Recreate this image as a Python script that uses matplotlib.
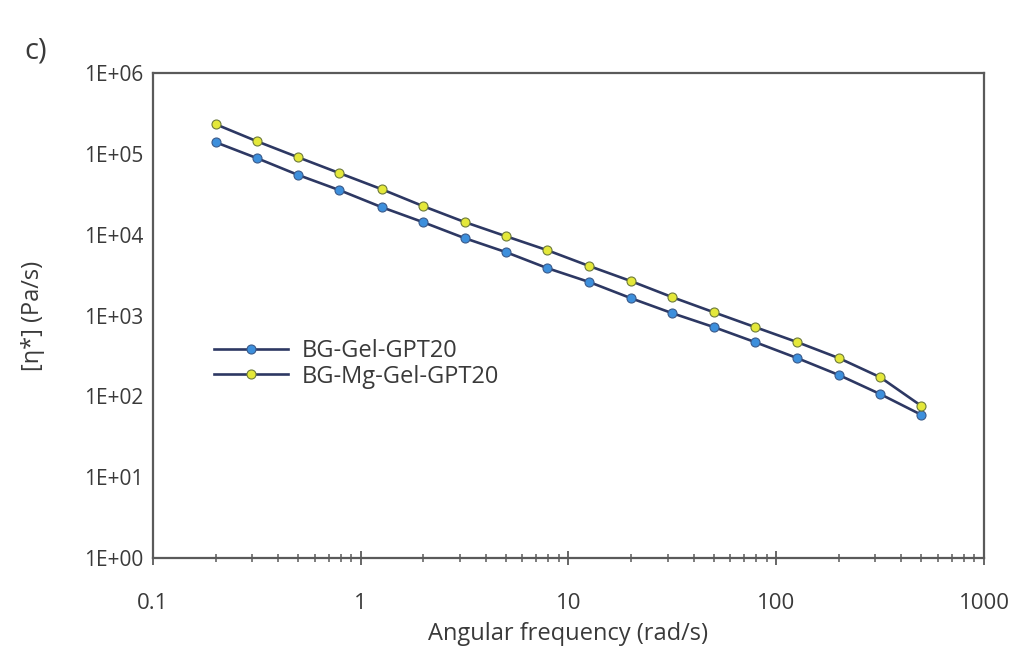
import numpy as np
import matplotlib
matplotlib.use("Agg")
import matplotlib.pyplot as plt

plt.rcParams["font.family"] = ["Open Sans", "DejaVu Sans"]

# angular frequency (rad/s), 5 points per decade
freq = [0.2, 0.316, 0.5, 0.79, 1.26, 2, 3.16, 5, 7.9, 12.6,
        20, 31.6, 50, 79, 126, 200, 316, 500]

# complex viscosity |eta*| (Pa/s)
bg_gel = [1.40e5, 8.9e4, 5.5e4, 3.57e4, 2.2e4, 1.43e4, 9.1e3, 6.1e3, 3.87e3,
          2.6e3, 1.64e3, 1.07e3, 721, 470, 298, 184, 107, 59]
bg_mg_gel = [2.34e5, 1.44e5, 9.1e4, 5.8e4, 3.67e4, 2.26e4, 1.44e4, 9.6e3, 6.45e3,
             4.1e3, 2.67e3, 1.69e3, 1.1e3, 721, 470, 298, 173, 76]

series_names = ["BG-Gel-GPT20", "BG-Mg-Gel-GPT20"]
yticks = [1, 10, 100, 1e3, 1e4, 1e5, 1e6]
ytick_labels = ["1E+00", "1E+01", "1E+02", "1E+03", "1E+04", "1E+05", "1E+06"]
xticks = [0.1, 1, 10, 100, 1000]
xtick_labels = ["0.1", "1", "10", "100", "1000"]

line_col = "#2d3863"
spine_col = "#5a5a5a"
text_col = "#3a3a3a"

fig = plt.figure(figsize=(10.09, 6.48), dpi=100)
ax = fig.add_axes([0.1516, 0.139, 0.8236, 0.748])

ax.plot(freq, bg_gel, "-o", color=line_col, lw=1.9, ms=6.5,
        mfc="#3d8fdc", mec="#3a5a8a", mew=0.8, label=series_names[0])
ax.plot(freq, bg_mg_gel, "-o", color=line_col, lw=1.9, ms=6.5,
        mfc="#e4e83a", mec="#6d7a3a", mew=0.8, label=series_names[1])

ax.set_xscale("log")
ax.set_yscale("log")
ax.set_xlim(0.1, 1000)
ax.set_ylim(1, 1e6)

ax.set_xticks(xticks)
ax.set_xticklabels(xtick_labels)
ax.set_yticks(yticks)
ax.set_yticklabels(ytick_labels)
ax.yaxis.set_minor_locator(matplotlib.ticker.NullLocator())

ax.tick_params(axis="x", which="major", direction="inout", length=10, width=1.3,
               color=spine_col, labelsize=16, labelcolor=text_col, pad=20)
ax.tick_params(axis="x", which="minor", direction="inout", length=6, width=1.1,
               color=spine_col)
ax.tick_params(axis="y", which="both", length=0, labelsize=15,
               labelcolor=text_col, pad=7)

for s in ax.spines.values():
    s.set_color(spine_col)
    s.set_linewidth(1.6)

ax.set_xlabel("Angular frequency (rad/s)", fontsize=17, color=text_col, labelpad=6)
ax.set_ylabel("[η*] (Pa/s)", fontsize=17, color=text_col, labelpad=28)

leg = ax.legend(loc="center left", bbox_to_anchor=(0.074, 0.40), frameon=False,
                fontsize=17, handlelength=3.1, handletextpad=0.6,
                borderpad=0, borderaxespad=0, labelspacing=0.05,
                labelcolor=text_col)

fig.text(0.024, 0.91, "c)", fontsize=21, color=text_col)

fig.savefig("out.png", dpi=100, facecolor="white")
